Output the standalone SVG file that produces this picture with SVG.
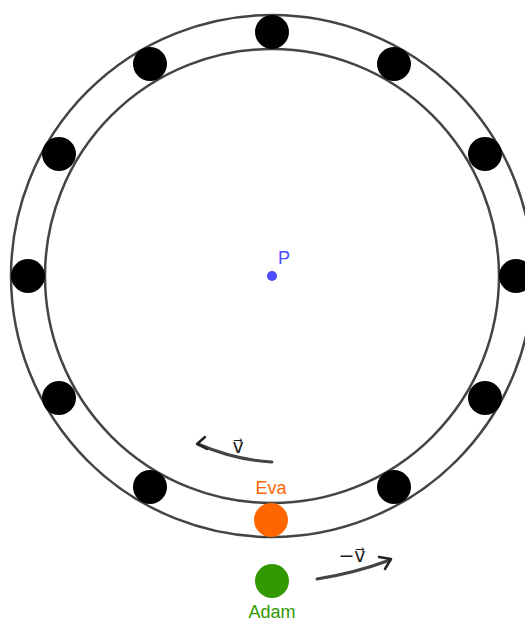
<svg xmlns="http://www.w3.org/2000/svg" width="525" height="621" viewBox="0 0 525 621">
<style>
.ring{fill:none;stroke:#444;stroke-width:2.5}
.dot{fill:#000}
.lbl{font-family:"Liberation Sans",Arial,sans-serif;font-size:18px}
.vec{font-family:"DejaVu Sans",sans-serif;font-size:19px;fill:#222}
.conn{fill:none;stroke:#444;stroke-width:3;stroke-linecap:round}
.head{fill:none;stroke:#222;stroke-width:2.5;stroke-linecap:round;stroke-linejoin:round}
</style>
<rect width="525" height="621" fill="#fff"/>
<g id="rings">
<circle class="ring" cx="272" cy="276" r="261"/>
<circle class="ring" cx="272" cy="276" r="227"/>
</g>
<g id="dots">
<circle class="dot" cx="272" cy="32" r="17"/>
<circle class="dot" cx="394" cy="64" r="17"/>
<circle class="dot" cx="485" cy="154" r="17"/>
<circle class="dot" cx="516" cy="276" r="17"/>
<circle class="dot" cx="485" cy="398" r="17"/>
<circle class="dot" cx="394" cy="487" r="17"/>
<circle class="dot" cx="150" cy="487" r="17"/>
<circle class="dot" cx="59" cy="398" r="17"/>
<circle class="dot" cx="28" cy="276" r="17"/>
<circle class="dot" cx="59" cy="154" r="17"/>
<circle class="dot" cx="150" cy="64" r="17"/>
</g>
<g id="P">
<circle cx="272" cy="276" r="5" fill="#4d4dff"/>
<text class="lbl" x="278" y="264" fill="#4d4dff">P</text>
</g>
<g id="Eva">
<circle cx="271" cy="520" r="17" fill="#ff6600"/>
<text class="lbl" x="271" y="494" fill="#ff6600" text-anchor="middle">Eva</text>
</g>
<g id="Adam">
<circle cx="272" cy="581" r="17" fill="#339900"/>
<text class="lbl" x="272" y="618" fill="#339900" text-anchor="middle">Adam</text>
</g>
<g id="connectors">
<path class="conn" d="M272,462 Q235,460 198,444"/>
<path class="head" d="M205,437 L197,444 L207,449"/>
<path class="conn" d="M317,579 Q355,573 390,560"/>
<path class="head" d="M379,557 L391,559 L385,569"/>
</g>
<g id="labels">
<text class="vec" x="238" y="453" text-anchor="middle">v⃗</text>
<text class="vec" x="352" y="562" text-anchor="middle">−v⃗</text>
</g>
</svg>
